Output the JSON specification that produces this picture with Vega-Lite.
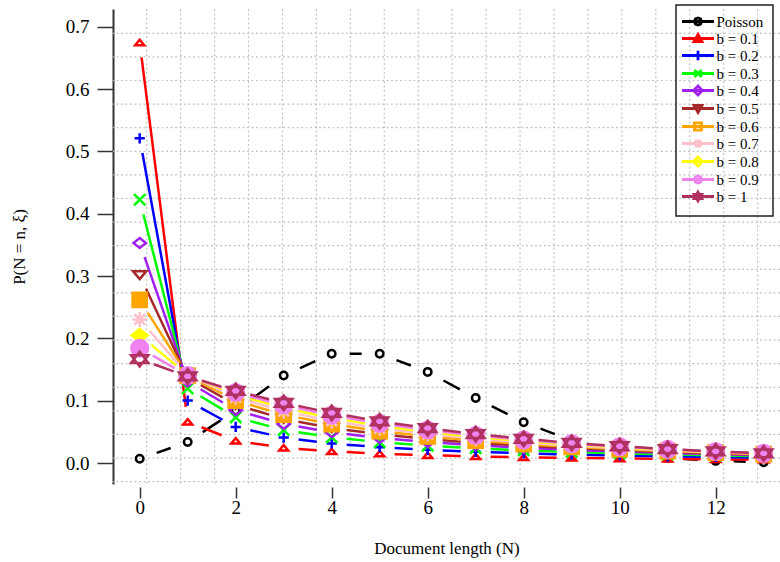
{
  "$schema": "https://vega.github.io/schema/vega-lite/v6.json",
  "autosize": {"type": "none"},
  "padding": {"left": 113, "top": 9, "right": 0, "bottom": 78},
  "width": 667,
  "height": 475,
  "background": "white",
  "config": {
    "font": "Liberation Serif",
    "view": {"stroke": null},
    "legend": {"strokeWidth": 1.5}
  },
  "datasets": {
    "main": [
      {"s":"Poisson","n":0,"p":0.00674},{"s":"Poisson","n":1,"p":0.03369},{"s":"Poisson","n":2,"p":0.08422},{"s":"Poisson","n":3,"p":0.14037},{"s":"Poisson","n":4,"p":0.17547},{"s":"Poisson","n":5,"p":0.17547},{"s":"Poisson","n":6,"p":0.14622},{"s":"Poisson","n":7,"p":0.10444},{"s":"Poisson","n":8,"p":0.06528},{"s":"Poisson","n":9,"p":0.03627},{"s":"Poisson","n":10,"p":0.01813},{"s":"Poisson","n":11,"p":0.00824},{"s":"Poisson","n":12,"p":0.00343},{"s":"Poisson","n":13,"p":0.00132},
      {"s":"b = 0.1","n":0,"p":0.67496},{"s":"b = 0.1","n":1,"p":0.06617},{"s":"b = 0.1","n":2,"p":0.03568},{"s":"b = 0.1","n":3,"p":0.02449},{"s":"b = 0.1","n":4,"p":0.01861},{"s":"b = 0.1","n":5,"p":0.01496},{"s":"b = 0.1","n":6,"p":0.01247},{"s":"b = 0.1","n":7,"p":0.01065},{"s":"b = 0.1","n":8,"p":0.00927},{"s":"b = 0.1","n":9,"p":0.00818},{"s":"b = 0.1","n":10,"p":0.00729},{"s":"b = 0.1","n":11,"p":0.00657},{"s":"b = 0.1","n":12,"p":0.00595},{"s":"b = 0.1","n":13,"p":0.00543},
      {"s":"b = 0.2","n":0,"p":0.5212},{"s":"b = 0.2","n":1,"p":0.10023},{"s":"b = 0.2","n":2,"p":0.05783},{"s":"b = 0.2","n":3,"p":0.04078},{"s":"b = 0.2","n":4,"p":0.03137},{"s":"b = 0.2","n":5,"p":0.02533},{"s":"b = 0.2","n":6,"p":0.02111},{"s":"b = 0.2","n":7,"p":0.01798},{"s":"b = 0.2","n":8,"p":0.01556},{"s":"b = 0.2","n":9,"p":0.01363},{"s":"b = 0.2","n":10,"p":0.01206},{"s":"b = 0.2","n":11,"p":0.01075},{"s":"b = 0.2","n":12,"p":0.00965},{"s":"b = 0.2","n":13,"p":0.00871},
      {"s":"b = 0.3","n":0,"p":0.42253},{"s":"b = 0.3","n":1,"p":0.11958},{"s":"b = 0.3","n":2,"p":0.07333},{"s":"b = 0.3","n":3,"p":0.05304},{"s":"b = 0.3","n":4,"p":0.04128},{"s":"b = 0.3","n":5,"p":0.03349},{"s":"b = 0.3","n":6,"p":0.02791},{"s":"b = 0.3","n":7,"p":0.0237},{"s":"b = 0.3","n":8,"p":0.0204},{"s":"b = 0.3","n":9,"p":0.01775},{"s":"b = 0.3","n":10,"p":0.01557},{"s":"b = 0.3","n":11,"p":0.01376},{"s":"b = 0.3","n":12,"p":0.01222},{"s":"b = 0.3","n":13,"p":0.01091},
      {"s":"b = 0.4","n":0,"p":0.35307},{"s":"b = 0.4","n":1,"p":0.13077},{"s":"b = 0.4","n":2,"p":0.08476},{"s":"b = 0.4","n":3,"p":0.06278},{"s":"b = 0.4","n":4,"p":0.04941},{"s":"b = 0.4","n":5,"p":0.04026},{"s":"b = 0.4","n":6,"p":0.03355},{"s":"b = 0.4","n":7,"p":0.02841},{"s":"b = 0.4","n":8,"p":0.02433},{"s":"b = 0.4","n":9,"p":0.02102},{"s":"b = 0.4","n":10,"p":0.0183},{"s":"b = 0.4","n":11,"p":0.01602},{"s":"b = 0.4","n":12,"p":0.01409},{"s":"b = 0.4","n":13,"p":0.01245},
      {"s":"b = 0.5","n":0,"p":0.30151},{"s":"b = 0.5","n":1,"p":0.13705},{"s":"b = 0.5","n":2,"p":0.09344},{"s":"b = 0.5","n":3,"p":0.07079},{"s":"b = 0.5","n":4,"p":0.05631},{"s":"b = 0.5","n":5,"p":0.04607},{"s":"b = 0.5","n":6,"p":0.03839},{"s":"b = 0.5","n":7,"p":0.03241},{"s":"b = 0.5","n":8,"p":0.02762},{"s":"b = 0.5","n":9,"p":0.02372},{"s":"b = 0.5","n":10,"p":0.02048},{"s":"b = 0.5","n":11,"p":0.01778},{"s":"b = 0.5","n":12,"p":0.01549},{"s":"b = 0.5","n":13,"p":0.01354},
      {"s":"b = 0.6","n":0,"p":0.26182},{"s":"b = 0.6","n":1,"p":0.14026},{"s":"b = 0.6","n":2,"p":0.10019},{"s":"b = 0.6","n":3,"p":0.07753},{"s":"b = 0.6","n":4,"p":0.0623},{"s":"b = 0.6","n":5,"p":0.05117},{"s":"b = 0.6","n":6,"p":0.04264},{"s":"b = 0.6","n":7,"p":0.0359},{"s":"b = 0.6","n":8,"p":0.03045},{"s":"b = 0.6","n":9,"p":0.02598},{"s":"b = 0.6","n":10,"p":0.02227},{"s":"b = 0.6","n":11,"p":0.01916},{"s":"b = 0.6","n":12,"p":0.01654},{"s":"b = 0.6","n":13,"p":0.01431},
      {"s":"b = 0.7","n":0,"p":0.23039},{"s":"b = 0.7","n":1,"p":0.14147},{"s":"b = 0.7","n":2,"p":0.10548},{"s":"b = 0.7","n":3,"p":0.08327},{"s":"b = 0.7","n":4,"p":0.06757},{"s":"b = 0.7","n":5,"p":0.05571},{"s":"b = 0.7","n":6,"p":0.04643},{"s":"b = 0.7","n":7,"p":0.03898},{"s":"b = 0.7","n":8,"p":0.03291},{"s":"b = 0.7","n":9,"p":0.02791},{"s":"b = 0.7","n":10,"p":0.02375},{"s":"b = 0.7","n":11,"p":0.02026},{"s":"b = 0.7","n":12,"p":0.01733},{"s":"b = 0.7","n":13,"p":0.01485},
      {"s":"b = 0.8","n":0,"p":0.20499},{"s":"b = 0.8","n":1,"p":0.14137},{"s":"b = 0.8","n":2,"p":0.10969},{"s":"b = 0.8","n":3,"p":0.08825},{"s":"b = 0.8","n":4,"p":0.07228},{"s":"b = 0.8","n":5,"p":0.05981},{"s":"b = 0.8","n":6,"p":0.04985},{"s":"b = 0.8","n":7,"p":0.04174},{"s":"b = 0.8","n":8,"p":0.03509},{"s":"b = 0.8","n":9,"p":0.02957},{"s":"b = 0.8","n":10,"p":0.02499},{"s":"b = 0.8","n":11,"p":0.02115},{"s":"b = 0.8","n":12,"p":0.01793},{"s":"b = 0.8","n":13,"p":0.01522},
      {"s":"b = 0.9","n":0,"p":0.1841},{"s":"b = 0.9","n":1,"p":0.14042},{"s":"b = 0.9","n":2,"p":0.11305},{"s":"b = 0.9","n":3,"p":0.09261},{"s":"b = 0.9","n":4,"p":0.07652},{"s":"b = 0.9","n":5,"p":0.06355},{"s":"b = 0.9","n":6,"p":0.05296},{"s":"b = 0.9","n":7,"p":0.04424},{"s":"b = 0.9","n":8,"p":0.03702},{"s":"b = 0.9","n":9,"p":0.03103},{"s":"b = 0.9","n":10,"p":0.02603},{"s":"b = 0.9","n":11,"p":0.02186},{"s":"b = 0.9","n":12,"p":0.01837},{"s":"b = 0.9","n":13,"p":0.01545},
      {"s":"b = 1","n":0,"p":0.16667},{"s":"b = 1","n":1,"p":0.13889},{"s":"b = 1","n":2,"p":0.11574},{"s":"b = 1","n":3,"p":0.09645},{"s":"b = 1","n":4,"p":0.08038},{"s":"b = 1","n":5,"p":0.06698},{"s":"b = 1","n":6,"p":0.05582},{"s":"b = 1","n":7,"p":0.04651},{"s":"b = 1","n":8,"p":0.03876},{"s":"b = 1","n":9,"p":0.0323},{"s":"b = 1","n":10,"p":0.02692},{"s":"b = 1","n":11,"p":0.02243},{"s":"b = 1","n":12,"p":0.01869},{"s":"b = 1","n":13,"p":0.01558}
    ],
    "gx": [
      {"n":0.146},{"n":0.853},{"n":1.56},{"n":2.267},{"n":2.974},{"n":3.681},{"n":4.389},{"n":5.096},{"n":5.803},{"n":6.51},{"n":7.217},{"n":7.924},{"n":8.631},{"n":9.338},{"n":10.045},{"n":10.753},{"n":11.46},{"n":12.167},{"n":12.874}
    ],
    "gy": [
      {"p":0.6897},{"p":0.6518},{"p":0.6139},{"p":0.5761},{"p":0.5382},{"p":0.5003},{"p":0.4624},{"p":0.4246},{"p":0.3867},{"p":0.3488},{"p":0.3109},{"p":0.2731},{"p":0.2352},{"p":0.1973},{"p":0.1594},{"p":0.1215},{"p":0.0837},{"p":0.0458},{"p":0.0079},{"p":-0.03}
    ]
  },
  "resolve": {"scale": {"shape": "independent", "color": "independent"}},
  "layer": [
    {
      "data": {"name": "gx"},
      "mark": {"type": "rule", "color": "#c4c4c4", "strokeWidth": 1.2, "strokeDash": [2, 2.5]},
      "encoding": {
        "x": {"field": "n", "type": "quantitative",
          "scale": {"domain": [-0.556, 13.34], "nice": false, "zero": false},
          "axis": {"values": [0, 2, 4, 6, 8, 10, 12], "format": "d", "title": "Document length (N)",
            "labelFont": "Liberation Serif", "labelFontSize": 19, "labelColor": "#000", "labelPadding": 0,
            "tickSize": 11, "tickWidth": 1.5, "tickColor": "#333", "offset": 3, "domain": false, "grid": false,
            "titleFont": "Liberation Serif", "titleFontSize": 17, "titleFontWeight": "normal", "titleColor": "#000", "titlePadding": 23}
        }
      }
    },
    {
      "data": {"name": "gy"},
      "mark": {"type": "rule", "color": "#c4c4c4", "strokeWidth": 1.2, "strokeDash": [2, 2.5]},
      "encoding": {
        "y": {"field": "p", "type": "quantitative",
          "scale": {"domain": [-0.0337, 0.7287], "nice": false, "zero": false},
          "axis": {"values": [0, 0.1, 0.2, 0.3, 0.4, 0.5, 0.6, 0.7], "format": ".1f", "title": "P(N = n, ξ)",
            "labelFont": "Liberation Serif", "labelFontSize": 19, "labelColor": "#000", "labelPadding": 8,
            "tickSize": 16, "tickWidth": 1.5, "tickColor": "#333", "domain": true, "domainColor": "#333", "domainWidth": 2, "grid": false,
            "titleFont": "Liberation Serif", "titleFontSize": 17, "titleFontWeight": "normal", "titleColor": "#000", "titlePadding": 37}
        }
      }
    },
    {
      "mark": {"type": "rule", "color": "#333", "strokeWidth": 2},
      "encoding": {"y": {"datum": 0.7287, "type": "quantitative"}}
    },
    {
      "mark": {"type": "rule", "color": "#333", "strokeWidth": 2},
      "encoding": {"y": {"datum": -0.0337, "type": "quantitative"}}
    },
    {
      "data": {"name": "main"},
      "mark": {"type": "line", "strokeWidth": 2.5, "clip": true},
      "encoding": {
        "x": {"field": "n", "type": "quantitative"},
        "y": {"field": "p", "type": "quantitative"},
        "stroke": {"field": "s", "type": "nominal", "legend": null,
          "scale": {"domain": ["Poisson","b = 0.1","b = 0.2","b = 0.3","b = 0.4","b = 0.5","b = 0.6","b = 0.7","b = 0.8","b = 0.9","b = 1"],
            "range": ["#000000","#FF0000","#0000FF","#00FF00","#A020F0","#A52A2A","#FFA500","#FFC0CB","#FFFF00","#EE82EE","#B03060"]}},
        "strokeDash": {"field": "s", "type": "nominal", "legend": null,
          "scale": {"domain": ["Poisson","b = 0.1","b = 0.2","b = 0.3","b = 0.4","b = 0.5","b = 0.6","b = 0.7","b = 0.8","b = 0.9","b = 1"],
            "range": [
              [0,18,14.85,36,21.4,36,23.39,36,16.74,36,12,36,15.34,36,18.6,36,17.85,36,15.29,36,13.31,36,12.39,36,12.09,36,12.02,1000],
              [0,15,352.29,30,21.62,30,18.5,30,18.14,30,18.05,30,18.03,30,18.02,30,18.01,30,18.01,30,18,30,18,30,18,30,18,1000],
              [0,15,236.62,30,24.79,30,19.16,30,18.36,30,18.15,30,18.07,30,18.04,30,18.03,30,18.02,30,18.02,30,18.01,30,18.01,30,18.01,1000],
              [0,15,164.74,30,25.99,30,19.64,30,18.56,30,18.24,30,18.13,30,18.07,30,18.04,30,18.03,30,18.03,30,18.02,30,18.02,30,18.01,1000],
              [0,15,116.58,30,25.91,30,19.91,30,18.72,30,18.34,30,18.18,30,18.11,30,18.07,30,18.04,30,18.03,30,18.02,30,18.02,30,18.01,1000],
              [0,15,83.15,30,25.16,30,20.03,30,18.84,30,18.42,30,18.24,30,18.14,30,18.09,30,18.06,30,18.04,30,18.03,30,18.02,30,18.02,1000],
              [0,15,59.66,30,24.11,30,20.03,30,18.93,30,18.5,30,18.29,30,18.18,30,18.12,30,18.08,30,18.06,30,18.04,30,18.03,30,18.02,1000],
              [0,15,43.3,30,22.98,30,19.95,30,18.99,30,18.57,30,18.35,30,18.22,30,18.15,30,18.1,30,18.07,30,18.05,30,18.04,30,18.03,1000],
              [0,15,32.25,30,21.9,30,19.82,30,19.02,30,18.62,30,18.4,30,18.26,30,18.18,30,18.12,30,18.09,30,18.06,30,18.04,30,18.03,1000],
              [0,15,25.18,30,20.94,30,19.66,30,19.03,30,18.68,30,18.45,30,18.31,30,18.21,30,18.15,30,18.1,30,18.07,30,18.05,30,18.04,1000],
              [0,15,21.03,30,20.12,30,19.48,30,19.03,30,18.72,30,18.5,30,18.35,30,18.24,30,18.17,30,18.12,30,18.08,30,18.06,30,18.04,1000]
            ]}}
      }
    },
    {
      "data": {"name": "main"},
      "mark": {"type": "point", "filled": false, "strokeWidth": 2.5, "opacity": 1, "clip": true},
      "encoding": {
        "x": {"field": "n", "type": "quantitative"},
        "y": {"field": "p", "type": "quantitative"},
        "stroke": {"field": "s", "type": "nominal", "legend": null,
          "scale": {"domain": ["Poisson","b = 0.1","b = 0.2","b = 0.3","b = 0.4","b = 0.5","b = 0.6","b = 0.7","b = 0.8","b = 0.9","b = 1"],
            "range": ["#000000","#FF0000","#0000FF","#00FF00","#A020F0","#A52A2A","#FFA500","#FFC0CB","#FFFF00","#EE82EE","#B03060"]}},
        "fill": {"field": "s", "type": "nominal", "legend": null,
          "scale": {"domain": ["Poisson","b = 0.1","b = 0.2","b = 0.3","b = 0.4","b = 0.5","b = 0.6","b = 0.7","b = 0.8","b = 0.9","b = 1"],
            "range": ["transparent","transparent","transparent","transparent","transparent","transparent","#FFA500","transparent","#FFFF00","#EE82EE","transparent"]}},
        "shape": {"field": "s", "type": "nominal", "legend": null,
          "scale": {"domain": ["Poisson","b = 0.1","b = 0.2","b = 0.3","b = 0.4","b = 0.5","b = 0.6","b = 0.7","b = 0.8","b = 0.9","b = 1"],
            "range": ["circle","M0,-0.6L1,0.6H-1Z","M-1,0H1M0,-1V1","M-1,-1L1,1M-1,1L1,-1","M0,-0.8L1,0L0,0.8L-1,0Z","M0,0.6L1,-0.6H-1Z","square","M-1,0H1M0,-1V1M-0.7,-0.7L0.7,0.7M-0.7,0.7L0.7,-0.7","M0,-0.8L1,0L0,0.8L-1,0Z","circle","M0,-0.85L1,0.45H-1ZM0,0.85L1,-0.45H-1Z"]}},
        "size": {"field": "s", "type": "ordinal", "legend": null,
          "scale": {"domain": ["Poisson","b = 0.1","b = 0.2","b = 0.3","b = 0.4","b = 0.5","b = 0.6","b = 0.7","b = 0.8","b = 0.9","b = 1"],
            "range": [56,300,240,140,270,270,75,160,160,65,256]}}
      }
    },
    {
      "data": {"name": "main"},
      "transform": [{"filter": "false"}],
      "mark": {"type": "point", "filled": false, "strokeWidth": 2.5, "opacity": 1},
      "encoding": {
        "x": {"field": "n", "type": "quantitative"},
        "y": {"field": "p", "type": "quantitative"},
        "color": {"field": "s", "type": "nominal",
          "scale": {"domain": ["Poisson","b = 0.1","b = 0.2","b = 0.3","b = 0.4","b = 0.5","b = 0.6","b = 0.7","b = 0.8","b = 0.9","b = 1"],
            "range": ["#000000","#FF0000","#0000FF","#00FF00","#A020F0","#A52A2A","#FFA500","#FFC0CB","#FFFF00","#EE82EE","#B03060"]},
          "legend": {"title": null, "orient": "none", "legendX": 563, "legendY": -4, "padding": 9,
            "symbolSize": 64, "symbolStrokeWidth": 2.8, "symbolOffset": 5.5, "labelOffset": 11, "rowPadding": -3.7,
            "labelFont": "Liberation Serif", "labelFontSize": 15, "labelColor": "#000", "labelLimit": 200,
            "strokeColor": "#222", "symbolOpacity": 1}},
        "shape": {"field": "s", "type": "nominal",
          "scale": {"domain": ["Poisson","b = 0.1","b = 0.2","b = 0.3","b = 0.4","b = 0.5","b = 0.6","b = 0.7","b = 0.8","b = 0.9","b = 1"],
            "range": [
              "M-4,0H4M0.9,0L0.64,0.64L0,0.9L-0.64,0.64L-0.9,0L-0.64,-0.64L0,-0.9L0.64,-0.64Z",
              "M-4,0H4M0,-1L1,0.75H-1Z",
              "M-4,0H4M0,-1.2V1.2",
              "M-4,0H4M-0.9,-0.9L0.9,0.9M-0.9,0.9L0.9,-0.9",
              "M-4,0H4M0,-1.1L1.1,0L0,1.1L-1.1,0Z",
              "M-4,0H4M0,1L1,-0.75H-1Z",
              "M-4,0H4M-0.9,-0.9H0.9V0.9H-0.9Z",
              "M-4,0H4M0,-1V1M-0.8,-0.8L0.8,0.8M-0.8,0.8L0.8,-0.8",
              "M-4,0H4M0,-1.1L1.1,0L0,1.1L-1.1,0Z",
              "M-4,0H4M0.9,0L0.64,0.64L0,0.9L-0.64,0.64L-0.9,0L-0.64,-0.64L0,-0.9L0.64,-0.64Z",
              "M-4,0H4M0,-1.1L0.95,0.55H-0.95ZM0,1.1L0.95,-0.55H-0.95Z"
            ]},
          "legend": {"title": null, "orient": "none", "legendX": 563, "legendY": -4, "padding": 9,
            "symbolSize": 64, "symbolStrokeWidth": 2.8, "symbolOffset": 5.5, "labelOffset": 11, "rowPadding": -3.7,
            "labelFont": "Liberation Serif", "labelFontSize": 15, "labelColor": "#000", "labelLimit": 200,
            "strokeColor": "#222", "symbolOpacity": 1}}
      }
    }
  ]
}
